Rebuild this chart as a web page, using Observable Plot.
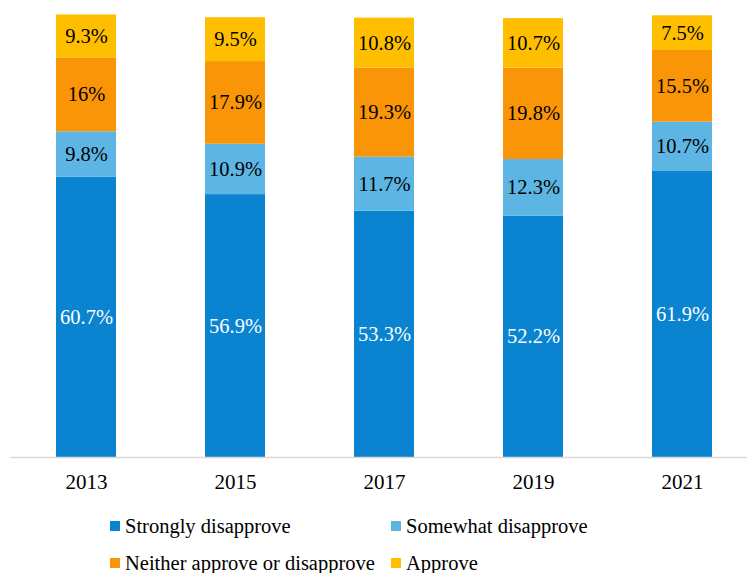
<!DOCTYPE html>
<html>
<head>
<meta charset="utf-8">
<script src="https://cdn.jsdelivr.net/npm/d3@7"></script>
<script src="https://cdn.jsdelivr.net/npm/@observablehq/plot@0.6"></script>
<style>
  body { margin: 0; background: #fff; font-family: "Liberation Serif", "Times New Roman", serif; }
  #wrap { position: relative; width: 747px; height: 573px; overflow: hidden; }
  #legend { position: absolute; left: 0; top: 0; width: 747px; font-size: 20.5px; color: #000; }
  .item { position: absolute; display: flex; align-items: center; white-space: nowrap; line-height: 20.5px; height: 20.5px; }
  .sw { width: 10px; height: 10px; margin-right: 5px; flex: none; }
</style>
</head>
<body>
<div id="wrap">
  <div id="chart"></div>
  <div id="legend"></div>
</div>
<script>
const years = ["2013", "2015", "2017", "2019", "2021"];
const categories = ["Strongly disapprove", "Somewhat disapprove", "Neither approve or disapprove", "Approve"];
const colors = ["#0a84d0", "#5db5e4", "#fa9508", "#ffbf00"];
const strongly = [60.7, 56.9, 53.3, 52.2, 61.9];
const somewhat = [9.8, 10.9, 11.7, 12.3, 10.7];
const neither = [16, 17.9, 19.3, 19.8, 15.5];
const approve = [9.3, 9.5, 10.8, 10.7, 7.5];
const series = [strongly, somewhat, neither, approve];

const data = [];
categories.forEach((c, ci) => {
  years.forEach((y, yi) => data.push({year: y, cat: c, value: series[ci][yi]}));
});

const chart = Plot.plot({
  width: 747,
  height: 500,
  marginLeft: 10,
  marginRight: 0,
  marginTop: 0,
  marginBottom: 43,
  style: {fontFamily: "'Liberation Serif', 'Times New Roman', serif", fontSize: "21px", color: "#000", background: "#fff"},
  x: {domain: years, range: [9.85, 757.35], paddingInner: 0.6, paddingOuter: 0.3, label: null, tickSize: 0, tickPadding: 17},
  y: {domain: [0, 100], range: [457, -5], axis: null},
  color: {domain: categories, range: colors},
  marks: [
    Plot.barY(data, Plot.stackY({x: "year", y: "value", z: "cat", order: categories, fill: "cat"})),
    Plot.ruleY([0], {stroke: "#d9d9d9", strokeWidth: 1.5}),
    Plot.text(data, Plot.stackY({
      x: "year", y: "value", z: "cat", order: categories,
      text: d => `${d.value}%`,
      fill: d => d.cat === categories[0] ? "#fff" : "#000",
      fontSize: 20.5,
      lineAnchor: "middle",
      ariaLabel: "seglabel"
    }))
  ]
});
document.getElementById("chart").appendChild(chart);

// Render the "%" sign a shade lighter, as in the reference
d3.select(chart).selectAll("g[aria-label='seglabel'] text").each(function() {
  const t = d3.select(this);
  const s = t.text();
  const fill = t.attr("fill");
  if (s.endsWith("%")) {
    t.text(null);
    t.append("tspan").text(s.slice(0, -1));
    t.append("tspan").attr("fill", fill === "#fff" ? "#fff" : "#404040").text("%");
  }
});

const legend = document.getElementById("legend");
const pos = [[391, 0], [391, 0], [391, 0], [391, 0]];
const lefts = [110, 391, 110, 391];
const tops = [516, 516, 553, 553];
categories.forEach((c, i) => {
  const item = document.createElement("div");
  item.className = "item";
  item.style.left = lefts[i] + "px";
  item.style.top = tops[i] + "px";
  const sw = document.createElement("span");
  sw.className = "sw";
  sw.style.background = colors[i];
  const lab = document.createElement("span");
  lab.textContent = c;
  item.appendChild(sw);
  item.appendChild(lab);
  legend.appendChild(item);
});
</script>
</body>
</html>
